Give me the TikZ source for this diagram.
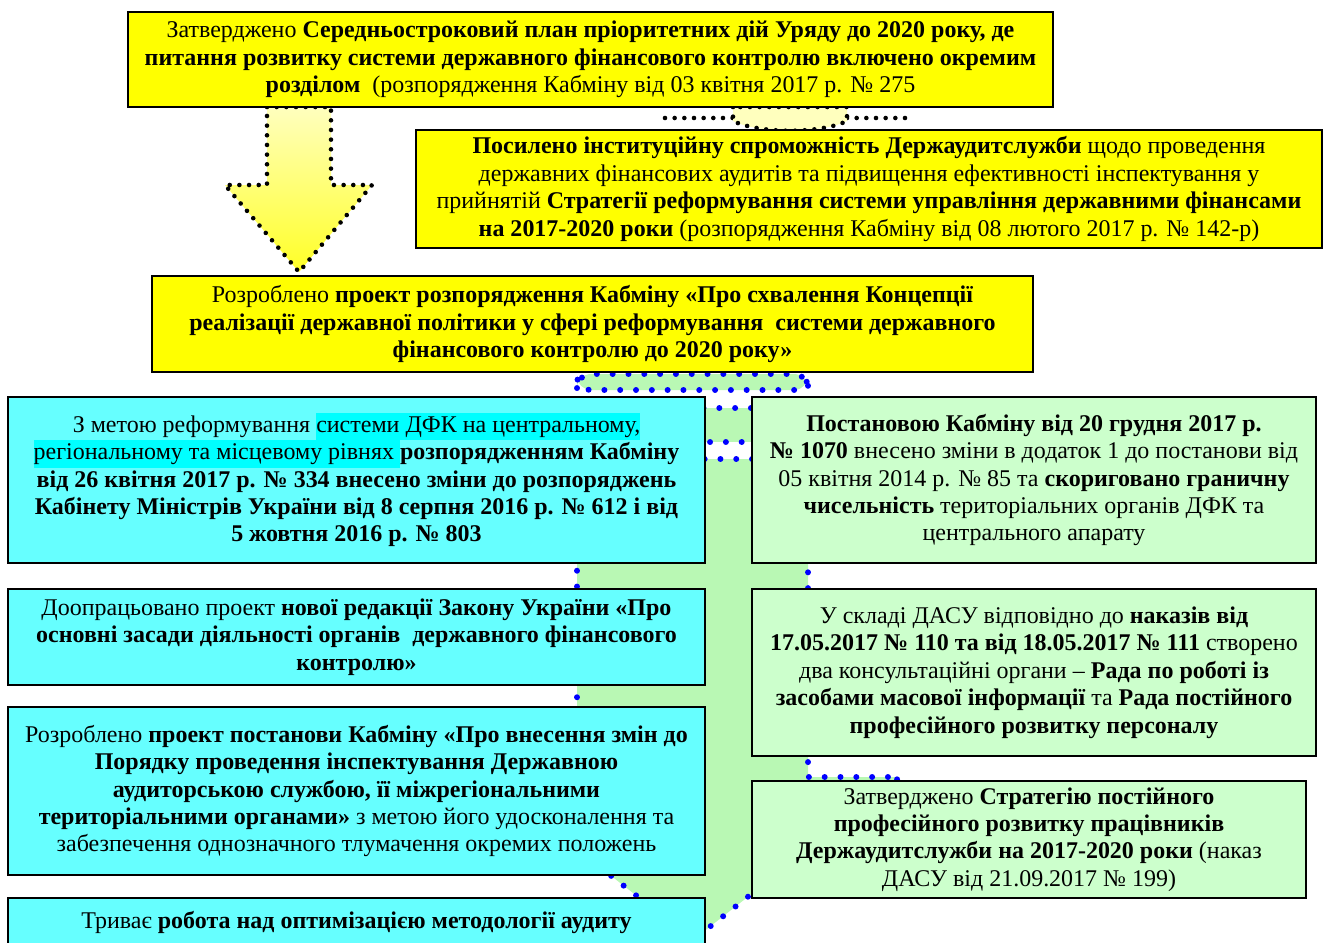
\documentclass[tikz,border=0pt]{standalone}
\usepackage{fontspec}
\setmainfont{Liberation Serif}
\usetikzlibrary{arrows.meta, positioning, calc, backgrounds}

\definecolor{boxyellow}{RGB}{255,255,0}
\definecolor{paleyellow}{RGB}{255,255,190}
\definecolor{boxcyan}{RGB}{102,255,255}
\definecolor{markcyan}{RGB}{0,255,255}
\definecolor{boxgreen}{RGB}{204,255,204}
\definecolor{arrowgreen}{RGB}{185,248,180}
\definecolor{dotblue}{RGB}{0,0,255}

\newcommand{\dfkmark}[1]{{\setlength{\fboxsep}{0pt}\colorbox{markcyan}{\strut #1}}}

\begin{document}
\begin{tikzpicture}[
    x=0.02cm, y=-0.02cm,
    box/.style={rectangle, draw=black, line width=1.5pt, align=center, inner sep=2pt,
                font=\fontsize{13.65}{15.6}\selectfont},
    yellowbox/.style={box, fill=boxyellow},
    cyanbox/.style={box, fill=boxcyan},
    greenbox/.style={box, fill=boxgreen},
    bluedots/.style={draw=dotblue, line width=3.4pt, line cap=round, dash pattern=on 0pt off 9pt},
    blackdots/.style={draw=black, line width=2.6pt, line cap=round, dash pattern=on 0pt off 5.5pt},
]

\useasboundingbox (0,0) rectangle (1325,943);

% === Block arrows (behind the boxes) ===

% big yellow arrow on the left
\draw[blackdots, top color=paleyellow, bottom color=boxyellow!85!white]
    (267,107) -- (331,107) -- (331,185) -- (372,185) -- (299,272)
    -- (225,185) -- (267,185) -- cycle;

% small yellow arrow under the first box
\draw[blackdots] (665,118) -- (733,118);
\draw[blackdots] (847,118) -- (913,118);
\draw[blackdots, fill=paleyellow]
    (733,107) -- (733,121) .. controls (760,134) and (820,134) .. (847,121)
    -- (847,107) -- cycle;

% green arrow through the middle
\draw[bluedots, fill=arrowgreen, rounded corners=8pt] (577,374) rectangle (808,390);
\draw[bluedots, fill=arrowgreen]
    (577,408) -- (808,408) -- (808,777) -- (900,777) -- (693,940)
    -- (485,777) -- (577,777) -- cycle;
\draw[bluedots, fill=white] (690,442) rectangle (770,459);

% === Yellow boxes ===

\node[yellowbox, minimum width=18.5cm, minimum height=1.9cm] (plan) at (590.5,59.5)
    {Затверджено \textbf{Середньостроковий план пріоритетних дій Уряду до 2020 року, де}\\
     \textbf{питання розвитку системи державного фінансового контролю включено окремим}\\
     \textbf{розділом}\ \ (розпорядження Кабміну від 03 квітня 2017 р. № 275};

\node[yellowbox, minimum width=18.12cm, minimum height=2.36cm] (strategy) at (869,189)
    {\textbf{Посилено інституційну спроможність Держаудитслужби} щодо проведення\\
     державних фінансових аудитів та підвищення ефективності інспектування у\\
     прийнятій \textbf{Стратегії реформування системи управління державними фінансами}\\
     \textbf{на 2017-2020 роки} (розпорядження Кабміну від 08 лютого 2017 р. № 142-р)};

\node[yellowbox, minimum width=17.62cm, minimum height=1.92cm] (concept) at (592.5,324)
    {Розроблено \textbf{проект розпорядження Кабміну «Про схвалення Концепції}\\
     \textbf{реалізації державної політики у сфері реформування\ \ системи державного}\\
     \textbf{фінансового контролю до 2020 року»}};

% === Left column ===

\node[cyanbox, minimum width=13.94cm, minimum height=3.32cm] (regions) at (356.5,480)
    {З метою реформування \dfkmark{системи ДФК на центральному,}\\
     \dfkmark{регіональному та місцевому рівнях }\textbf{розпорядженням Кабміну}\\
     \textbf{від 26 квітня 2017 р. № 334 внесено зміни до розпоряджень}\\
     \textbf{Кабінету Міністрів України від 8 серпня 2016 р. № 612 і від}\\
     \textbf{5 жовтня 2016 р. № 803}};

\node[cyanbox, minimum width=13.94cm, minimum height=1.92cm] (law) at (356.5,637)
    {Доопрацьовано проект \textbf{нової редакції Закону України «Про}\\
     \textbf{основні засади діяльності органів\ \ державного фінансового}\\
     \textbf{контролю»}};

\node[cyanbox, minimum width=13.94cm, minimum height=3.36cm] (inspect) at (356.5,791)
    {Розроблено \textbf{проект постанови Кабміну «Про внесення змін до}\\
     \textbf{Порядку проведення інспектування Державною}\\
     \textbf{аудиторською службою, її міжрегіональними}\\
     \textbf{територіальними органами»} з метою його удосконалення та\\
     забезпечення однозначного тлумачення окремих положень};

\node[cyanbox, minimum width=13.94cm, minimum height=0.96cm] (method) at (356.5,922)
    {Триває \textbf{робота над оптимізацією методології аудиту}};

% === Right column ===

\node[greenbox, minimum width=11.28cm, minimum height=3.32cm] (staff) at (1034,480)
    {\textbf{Постановою Кабміну від 20 грудня 2017 р.}\\
     \textbf{№ 1070} внесено зміни в додаток 1 до постанови від\\
     05 квітня 2014 р. № 85 та \textbf{скориговано граничну}\\
     \textbf{чисельність} територіальних органів ДФК та\\
     центрального апарату};

\node[greenbox, minimum width=11.28cm, minimum height=3.34cm] (councils) at (1034,672.5)
    {У складі ДАСУ відповідно до \textbf{наказів від}\\
     \textbf{17.05.2017 № 110 та від 18.05.2017 № 111} створено\\
     два консультаційні органи – \textbf{Рада по роботі із}\\
     \textbf{засобами масової інформації} та \textbf{Рада постійного}\\
     \textbf{професійного розвитку персоналу}};

\node[greenbox, minimum width=11.08cm, minimum height=2.34cm] (training) at (1029,839.5)
    {Затверджено \textbf{Стратегію постійного}\\
     \textbf{професійного розвитку працівників}\\
     \textbf{Держаудитслужби на 2017-2020 роки} (наказ\\
     ДАСУ від 21.09.2017 № 199)};

\end{tikzpicture}
\end{document}
